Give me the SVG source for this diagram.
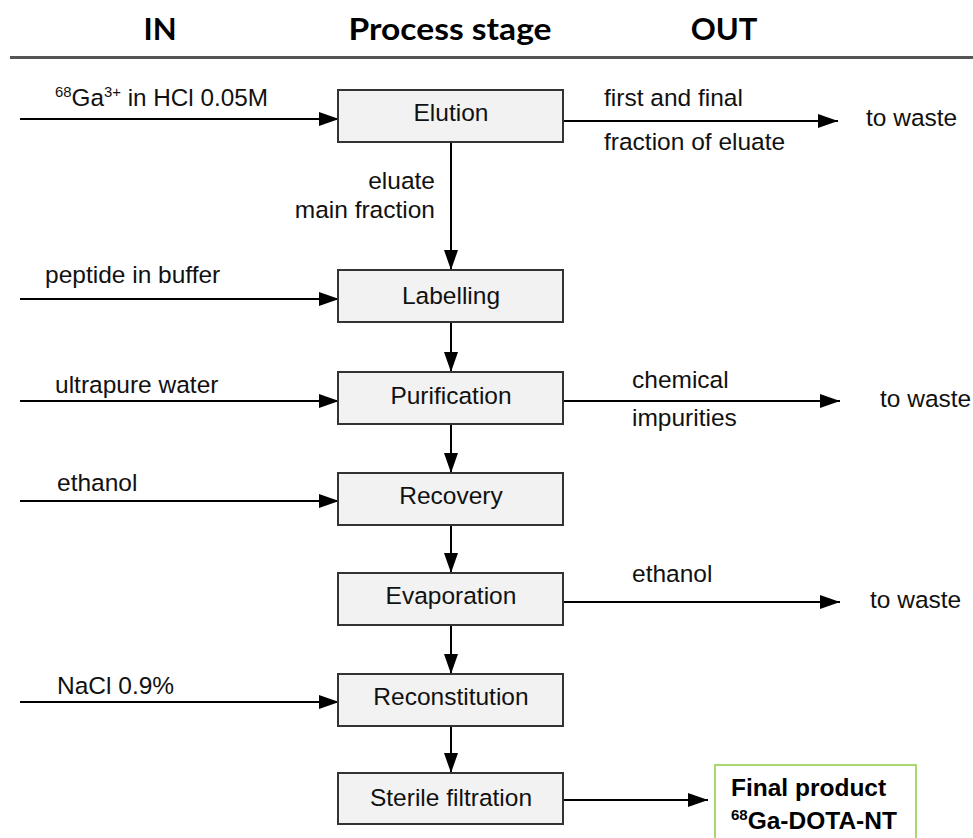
<svg xmlns="http://www.w3.org/2000/svg" width="973" height="838" viewBox="0 0 973 838">
<style>
.hdr{font-family:Lato,"Liberation Sans",sans-serif;font-weight:bold;font-size:31px;fill:#000}
.lbl{font-family:"Liberation Sans",Arial,sans-serif;font-size:24.5px;fill:#111}
.box{fill:#f2f2f2;stroke:#333;stroke-width:2}
.ln{stroke:#000;stroke-width:2;fill:none}
.bt{font-family:"Liberation Sans",Arial,sans-serif;font-size:24.5px;fill:#111;text-anchor:middle}
.fp{font-family:"Liberation Sans",Arial,sans-serif;font-size:24.5px;font-weight:bold;fill:#000}
</style>
<defs>
<marker id="ah" viewBox="0 0 20 14" refX="20" refY="7" markerWidth="20" markerHeight="14" markerUnits="userSpaceOnUse" orient="auto">
<path d="M0,0 L20,7 L0,14 Z" fill="#000"/>
</marker>
</defs>
<g id="headers">
<text class="hdr" x="160" y="40" text-anchor="middle">IN</text>
<text class="hdr" x="450" y="40" text-anchor="middle" textLength="203" lengthAdjust="spacingAndGlyphs">Process stage</text>
<text class="hdr" x="724" y="40" text-anchor="middle">OUT</text>
<rect x="10" y="56" width="963" height="3" fill="#555"/>
</g>
<g id="connectors">
<line class="ln" x1="20" y1="119" x2="339" y2="119" marker-end="url(#ah)"/>
<line class="ln" x1="563" y1="121" x2="838" y2="121" marker-end="url(#ah)"/>
<line class="ln" x1="451" y1="142" x2="451" y2="270" marker-end="url(#ah)"/>
<line class="ln" x1="20" y1="299" x2="339" y2="299" marker-end="url(#ah)"/>
<line class="ln" x1="451" y1="322" x2="451" y2="372" marker-end="url(#ah)"/>
<line class="ln" x1="20" y1="401" x2="339" y2="401" marker-end="url(#ah)"/>
<line class="ln" x1="563" y1="401" x2="840" y2="401" marker-end="url(#ah)"/>
<line class="ln" x1="451" y1="424" x2="451" y2="473" marker-end="url(#ah)"/>
<line class="ln" x1="20" y1="501" x2="339" y2="501" marker-end="url(#ah)"/>
<line class="ln" x1="451" y1="525" x2="451" y2="573" marker-end="url(#ah)"/>
<line class="ln" x1="563" y1="602" x2="840" y2="602" marker-end="url(#ah)"/>
<line class="ln" x1="451" y1="625" x2="451" y2="674" marker-end="url(#ah)"/>
<line class="ln" x1="20" y1="702" x2="339" y2="702" marker-end="url(#ah)"/>
<line class="ln" x1="451" y1="726" x2="451" y2="773" marker-end="url(#ah)"/>
<line class="ln" x1="563" y1="800" x2="708" y2="800" marker-end="url(#ah)"/>
</g>
<g id="labels">
<text class="lbl" x="55" y="106" textLength="213" lengthAdjust="spacingAndGlyphs"><tspan font-size="15" dy="-9">68</tspan><tspan dy="9">Ga</tspan><tspan font-size="15" dy="-9">3+</tspan><tspan dy="9"> in HCl 0.05M</tspan></text>
<text class="lbl" x="604" y="106">first and final</text>
<text class="lbl" x="604" y="150">fraction of eluate</text>
<text class="lbl" x="866" y="126">to waste</text>
<text class="lbl" x="435" y="189" text-anchor="end">eluate</text>
<text class="lbl" x="435" y="218" text-anchor="end">main fraction</text>
<text class="lbl" x="45" y="283">peptide in buffer</text>
<text class="lbl" x="55" y="393">ultrapure water</text>
<text class="lbl" x="632" y="388">chemical</text>
<text class="lbl" x="632" y="426">impurities</text>
<text class="lbl" x="880" y="407">to waste</text>
<text class="lbl" x="57" y="491">ethanol</text>
<text class="lbl" x="632" y="582">ethanol</text>
<text class="lbl" x="870" y="608">to waste</text>
<text class="lbl" x="57" y="694">NaCl 0.9%</text>
</g>
<g id="elution"><rect class="box" x="338" y="90" width="225" height="52"/><text class="bt" x="451" y="121">Elution</text></g>
<g id="labelling"><rect class="box" x="338" y="270" width="225" height="52"/><text class="bt" x="451" y="304">Labelling</text></g>
<g id="purification"><rect class="box" x="338" y="372" width="225" height="52"/><text class="bt" x="451" y="404">Purification</text></g>
<g id="recovery"><rect class="box" x="338" y="473" width="225" height="52"/><text class="bt" x="451" y="504">Recovery</text></g>
<g id="evaporation"><rect class="box" x="338" y="573" width="225" height="52"/><text class="bt" x="451" y="604">Evaporation</text></g>
<g id="reconstitution"><rect class="box" x="338" y="674" width="225" height="52"/><text class="bt" x="451" y="705">Reconstitution</text></g>
<g id="sterile"><rect class="box" x="338" y="773" width="225" height="51"/><text class="bt" x="451" y="806">Sterile filtration</text></g>
<g id="final">
<rect x="715" y="765" width="201" height="80" fill="#fff" stroke="#a8d870" stroke-width="2"/>
<text class="fp" x="731" y="796">Final product</text>
<text class="fp" x="731" y="829"><tspan font-size="15" dy="-9">68</tspan><tspan dy="9">Ga-DOTA-NT</tspan></text>
</g>
</svg>
